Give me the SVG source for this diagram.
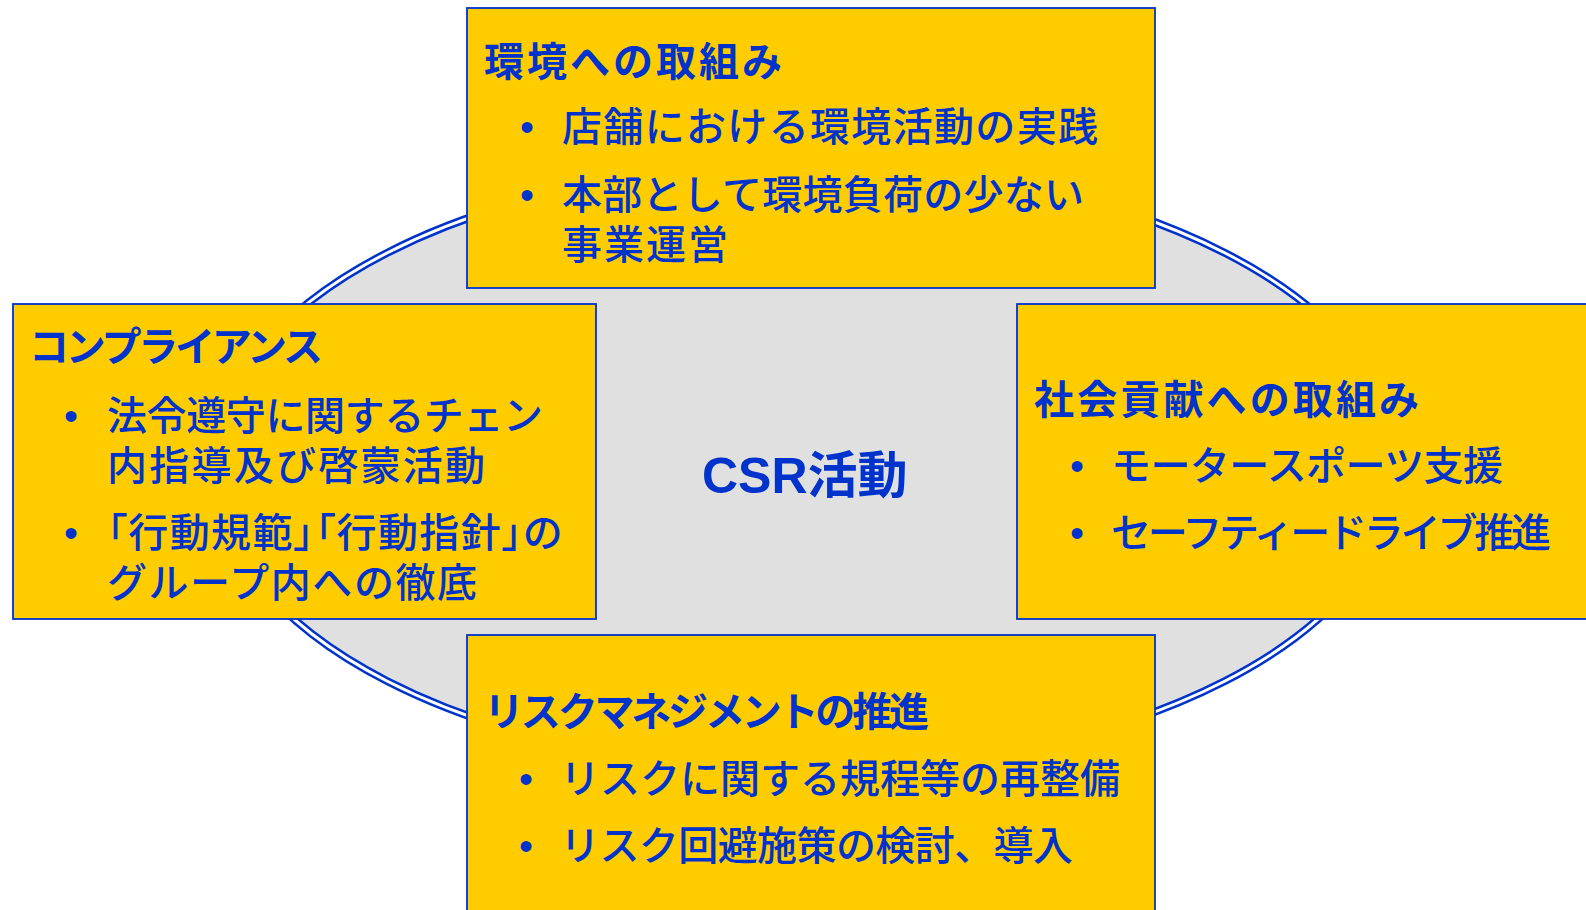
<svg xmlns="http://www.w3.org/2000/svg" width="1586" height="910" viewBox="0 0 1586 910">
<style>
.box{fill:#FFCC00;stroke:#0033CC;stroke-width:1.8}
.t{font-family:"Noto Sans CJK JP","Liberation Sans",sans-serif;font-size:40px;font-weight:500;fill:#0033CC}
.h{font-weight:bold}
.p{font-feature-settings:"palt"}
.b{font-family:"Liberation Sans",sans-serif;font-size:40px;fill:#0033CC;text-anchor:middle}
.c{font-family:"Liberation Sans","Noto Sans CJK JP",sans-serif;font-size:50px;font-weight:bold;fill:#0033CC}
</style>
<rect width="1586" height="910" fill="#FFFFFF"/>
<g id="csr-center">
<ellipse cx="806" cy="467" rx="592" ry="303" fill="#E0E0E0" stroke="#0033CC" stroke-width="8"/>
<ellipse cx="806" cy="467" rx="592" ry="303" fill="none" stroke="#FFFFFF" stroke-width="3"/>
<text class="c" x="702" y="493">CSR活動</text>
</g>
<g id="connectors"></g>
<g id="node-environment">
<rect class="box" x="467" y="8" width="688" height="280"/>
<text class="t h" x="484" y="76" textLength="298">環境への取組み</text>
<text class="b" x="527" y="141">•</text>
<text class="t" x="562" y="141" textLength="536">店舗における環境活動の実践</text>
<text class="b" x="527" y="209">•</text>
<text class="t" x="562" y="209" textLength="522">本部として環境負荷の少ない</text>
<text class="t" x="562" y="259" textLength="166">事業運営</text>
</g>
<g id="node-compliance">
<rect class="box" x="13" y="304" width="583" height="315"/>
<text class="t h" x="29" y="361" textLength="294">コンプライアンス</text>
<text class="b" x="71" y="430">•</text>
<text class="t" x="107" y="430" textLength="436">法令遵守に関するチェン</text>
<text class="t" x="107" y="480" textLength="378">内指導及び啓蒙活動</text>
<text class="b" x="71" y="547">•</text>
<text class="t p" x="107" y="547" textLength="455">「行動規範」「行動指針」の</text>
<text class="t" x="107" y="597" textLength="370">グループ内への徹底</text>
</g>
<g id="node-social">
<rect class="box" x="1017" y="304" width="590" height="315"/>
<text class="t h" x="1034" y="414" textLength="385">社会貢献への取組み</text>
<text class="b" x="1077" y="480">•</text>
<text class="t" x="1111" y="480" textLength="392">モータースポーツ支援</text>
<text class="b" x="1077" y="547">•</text>
<text class="t" x="1111" y="547" textLength="440">セーフティードライブ推進</text>
</g>
<g id="node-risk">
<rect class="box" x="467" y="635" width="688" height="300"/>
<text class="t h" x="484" y="726" textLength="445">リスクマネジメントの推進</text>
<text class="b" x="526" y="793">•</text>
<text class="t" x="560" y="793" textLength="560">リスクに関する規程等の再整備</text>
<text class="b" x="526" y="860">•</text>
<text class="t" x="560" y="860" textLength="513">リスク回避施策の検討、導入</text>
</g>
</svg>
